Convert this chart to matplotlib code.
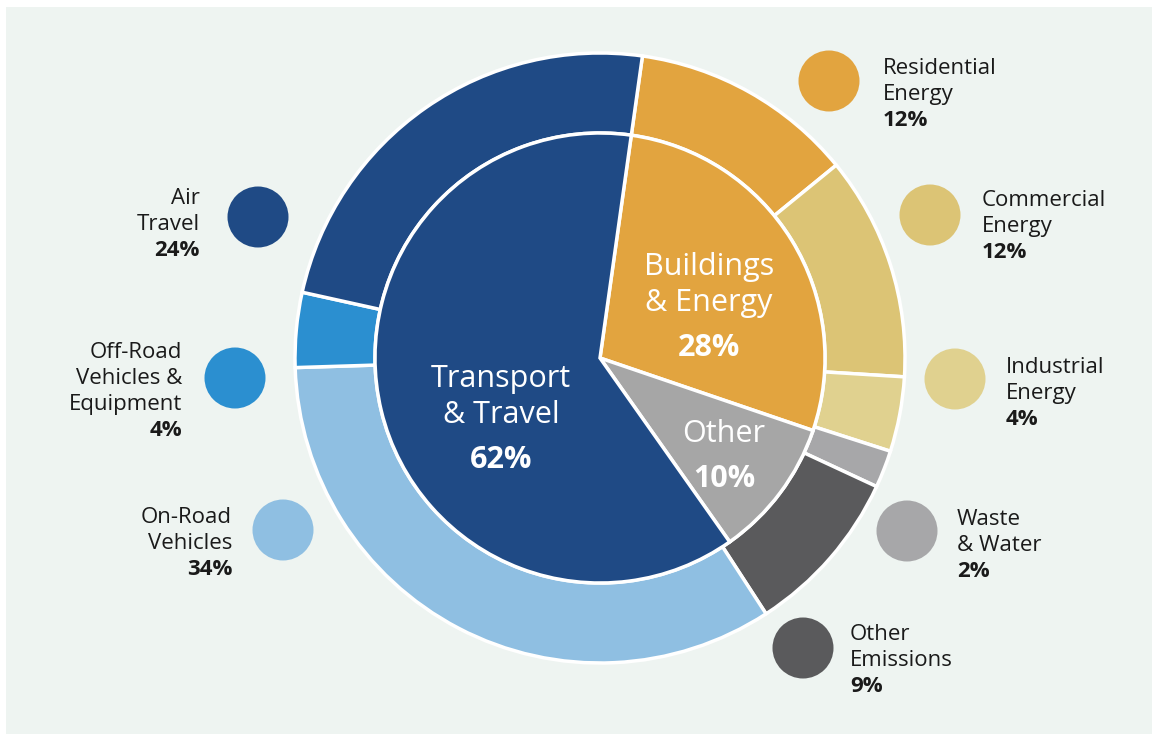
import matplotlib
matplotlib.use('Agg')
import matplotlib.pyplot as plt
from matplotlib.patches import Circle, Rectangle

# Inner ring: sectors
inner_labels = [['Buildings', '& Energy'], ['Other'], ['Transport', '& Travel']]
inner_values = [28, 10, 62]
inner_colors = ['#e2a43f', '#a6a6a6', '#1f4a85']

# Outer ring: sub-sectors (clockwise from top)
outer_names = [['Residential', 'Energy'], ['Commercial', 'Energy'], ['Industrial', 'Energy'],
               ['Waste', '& Water'], ['Other', 'Emissions'], ['On-Road', 'Vehicles'],
               ['Off-Road', 'Vehicles &', 'Equipment'], ['Air', 'Travel']]
outer_values = [12, 12, 4, 2, 9, 34, 4, 24]
outer_colors = ['#e2a43f', '#dcc475', '#e0d18f', '#a7a7a9', '#5a5a5c',
                '#8fbfe2', '#2b8fd0', '#1f4a85']

BG = '#eef4f1'
W, H = 1152, 734

plt.rcParams['font.family'] = ['Open Sans', 'DejaVu Sans']

fig = plt.figure(figsize=(W / 100, H / 100), dpi=100, facecolor='white')
ax = fig.add_axes([0, 0, 1, 1])

cx, cy = 600, 376
R_out, R_in = 305, 225
start = 82

ax.pie(outer_values, colors=outer_colors, radius=R_out, center=(cx, cy),
       startangle=start, counterclock=False,
       wedgeprops=dict(width=R_out - R_in, edgecolor='white', linewidth=2.5))
ax.pie(inner_values, colors=inner_colors, radius=R_in, center=(cx, cy),
       startangle=start, counterclock=False,
       wedgeprops=dict(edgecolor='white', linewidth=2.5))

# pie() resets the limits, so set them afterwards
ax.set_xlim(0, W)
ax.set_ylim(0, H)
ax.set_aspect('equal')
ax.axis('off')
ax.add_patch(Rectangle((6, 0), W - 6, H - 7, facecolor=BG, edgecolor='none', zorder=0))

# labels inside the inner pie: x centre, first line centre y (image coords)
inner_pos = [(709, 265), (724, 432), (501, 377)]
for lines, val, (x, y) in zip(inner_labels, inner_values, inner_pos):
    for k, ln in enumerate(lines):
        ax.text(x, H - (y + 10 + 36 * k), ln, ha='center', va='baseline',
                color='white', fontsize=22)
    ax.text(x, H - (y + 11 + 36 * len(lines) + 8), f'{val}%', ha='center',
            va='baseline', color='white', fontsize=22, fontweight='bold')

# legend bubbles: circle centre, text anchor x, first line centre y (image coords), side
bubbles = [(829, 81, 883, 66, 'left'),
           (930, 215, 982, 198, 'left'),
           (955, 379, 1006, 365, 'left'),
           (907, 531, 957, 517, 'left'),
           (803, 648, 850, 632, 'left'),
           (283, 530, 232, 515, 'right'),
           (235, 378, 182, 350, 'right'),
           (258, 217, 200, 196, 'right')]

for lines, val, col, (bx, by, tx, ty, side) in zip(outer_names, outer_values, outer_colors, bubbles):
    ax.add_patch(Circle((bx, H - by), 30.5, facecolor=col, edgecolor='none', zorder=3))
    for k, ln in enumerate(lines):
        ax.text(tx, H - (ty + 8 + 26 * k), ln, ha=side, va='baseline',
                fontsize=16, color='#1a1a1a')
    ax.text(tx, H - (ty + 8 + 26 * len(lines)), f'{val}%', ha=side, va='baseline',
            fontsize=16, fontweight='bold', color='#1a1a1a')

fig.savefig('out.png', dpi=100, facecolor='white')
